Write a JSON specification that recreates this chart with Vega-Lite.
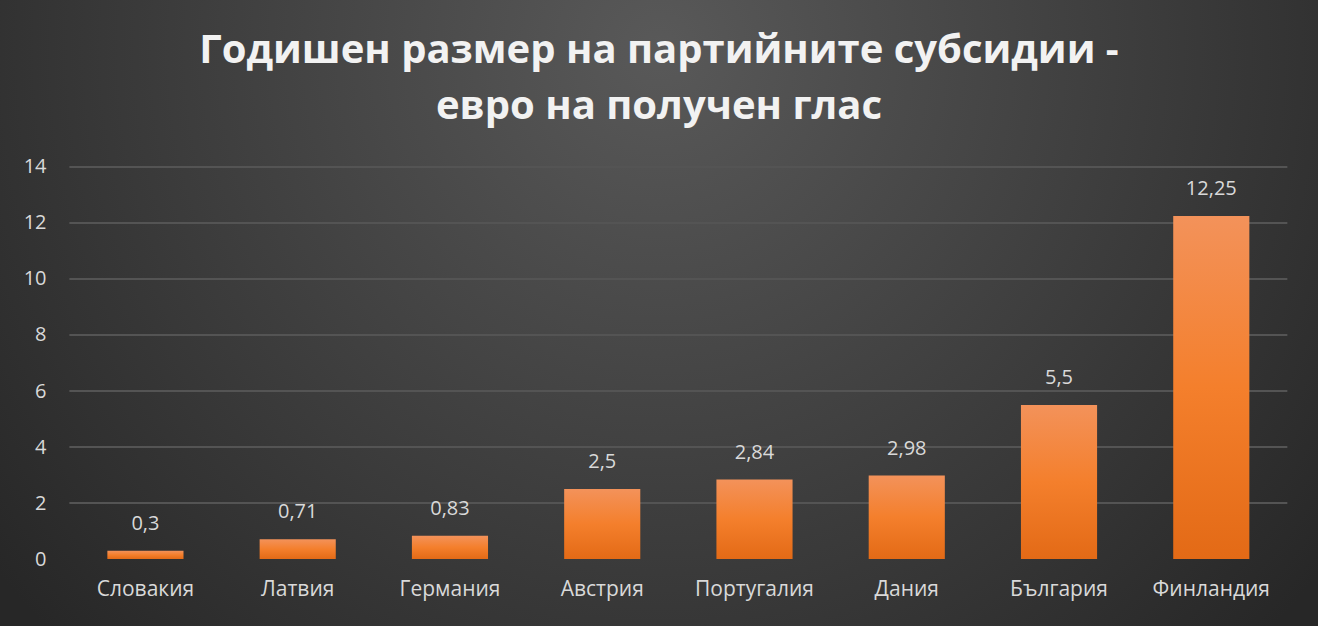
{
  "$schema": "https://vega.github.io/schema/vega-lite/v6.json",
  "width": 1318,
  "height": 626,
  "padding": 0,
  "autosize": {"type": "none"},
  "background": "#2b2b2b",
  "view": {
    "stroke": null,
    "fill": {
      "gradient": "radial",
      "x1": 0.5, "y1": 0.3, "r1": 0,
      "x2": 0.5, "y2": 0.3, "r2": 0.64,
      "stops": [
        {"offset": 0, "color": "#595959"},
        {"offset": 1, "color": "#272727"}
      ]
    }
  },
  "title": {
    "text": ["Годишен размер на партийните субсидии -", "евро на получен глас"],
    "font": "Open Sans",
    "fontSize": 40,
    "fontWeight": "bold",
    "color": "#f2f2f2",
    "lineHeight": 56,
    "anchor": "middle",
    "offset": -127
  },
  "datasets": {
    "subsidies": [
      {"country": "Словакия", "value": 0.3, "label": "0,3"},
      {"country": "Латвия", "value": 0.71, "label": "0,71"},
      {"country": "Германия", "value": 0.83, "label": "0,83"},
      {"country": "Австрия", "value": 2.5, "label": "2,5"},
      {"country": "Португалия", "value": 2.84, "label": "2,84"},
      {"country": "Дания", "value": 2.98, "label": "2,98"},
      {"country": "България", "value": 5.5, "label": "5,5"},
      {"country": "Финландия", "value": 12.25, "label": "12,25"}
    ],
    "gridlines": [
      {"tick": 2}, {"tick": 4}, {"tick": 6}, {"tick": 8},
      {"tick": 10}, {"tick": 12}, {"tick": 14}
    ]
  },
  "encoding": {
    "x": {
      "field": "country",
      "type": "nominal",
      "sort": null,
      "title": null,
      "scale": {
        "domain": ["Словакия", "Латвия", "Германия", "Австрия", "Португалия", "Дания", "България", "Финландия"],
        "paddingInner": 0.5,
        "paddingOuter": 0.578,
        "align": 0.61
      },
      "axis": {
        "orient": "bottom",
        "offset": -67,
        "domain": false,
        "ticks": false,
        "tickSize": 0,
        "labelPadding": 19,
        "labelAngle": 0,
        "labelFont": "Open Sans",
        "labelFontSize": 21,
        "labelColor": "#d9d9d9"
      }
    },
    "y": {
      "field": "value",
      "type": "quantitative",
      "title": null,
      "scale": {"domain": [-2.39, 19.96], "nice": false, "zero": false},
      "axis": {
        "orient": "left",
        "offset": -50,
        "values": [0, 2, 4, 6, 8, 10, 12, 14],
        "grid": false,
        "domain": false,
        "ticks": false,
        "tickSize": 0,
        "labelPadding": 4,
        "labelFont": "Open Sans",
        "labelFontSize": 20,
        "labelColor": "#d9d9d9"
      }
    }
  },
  "layer": [
    {
      "data": {"name": "gridlines"},
      "mark": {"type": "rule", "color": "#545454", "strokeWidth": 2, "xOffset": -38, "x2Offset": 38},
      "encoding": {
        "x": {"datum": "Словакия", "type": "nominal", "bandPosition": 0},
        "x2": {"datum": "Финландия", "bandPosition": 1},
        "y": {"field": "tick", "type": "quantitative"}
      }
    },
    {
      "data": {"name": "subsidies"},
      "mark": {
        "type": "bar",
        "fill": {
          "gradient": "linear",
          "x1": 0, "y1": 0, "x2": 0, "y2": 1,
          "stops": [
            {"offset": 0, "color": "#f3925a"},
            {"offset": 0.5, "color": "#f47f2c"},
            {"offset": 1, "color": "#e36a16"}
          ]
        }
      },
      "encoding": {}
    },
    {
      "data": {"name": "subsidies"},
      "mark": {
        "type": "text",
        "baseline": "bottom",
        "dy": -17,
        "font": "Open Sans",
        "fontSize": 20,
        "color": "#d9d9d9"
      },
      "encoding": {"text": {"field": "label"}}
    },
    {
      "data": {"values": [{}]},
      "mark": {"type": "rule", "color": "#a6a6a6", "strokeWidth": 2, "xOffset": -38, "x2Offset": 38},
      "encoding": {
        "x": {"datum": "Словакия", "type": "nominal", "bandPosition": 0},
        "x2": {"datum": "Финландия", "bandPosition": 1},
        "y": {"datum": 0, "type": "quantitative"}
      }
    }
  ]
}
